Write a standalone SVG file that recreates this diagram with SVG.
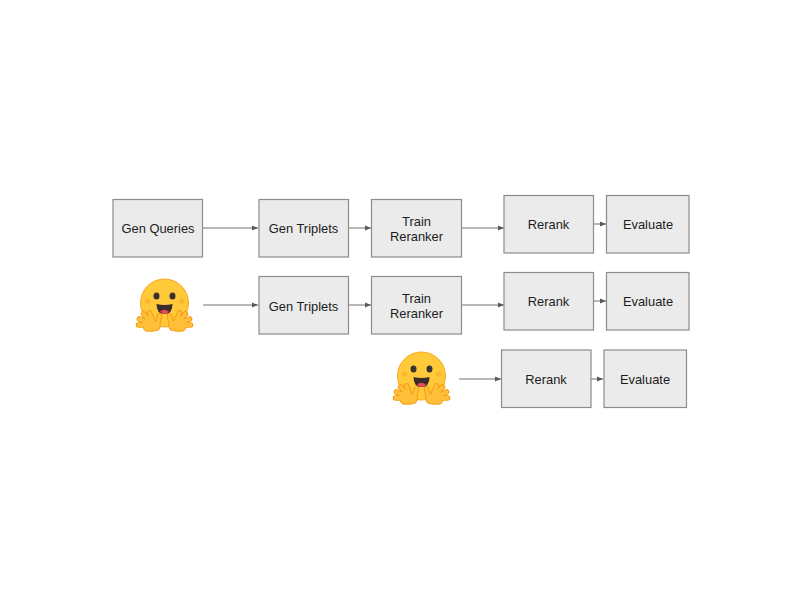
<svg xmlns="http://www.w3.org/2000/svg" xmlns:xlink="http://www.w3.org/1999/xlink" width="800" height="600" viewBox="0 0 800 600">
<style>
.box{fill:#ebebeb;stroke:#8c8c8c;stroke-width:1.2}
.t{font-family:"Liberation Sans",Arial,sans-serif;font-size:12.9px;fill:#1c1c1c;text-anchor:middle}
.c{fill:none;stroke:#707070;stroke-width:1;marker-end:url(#a)}
.fing{stroke:#f59a0b;stroke-width:5.6;stroke-linecap:round;fill:none}
.fing2{stroke:#ffbf3a;stroke-width:3.8;stroke-linecap:round;fill:none}
</style>
<defs>
<marker id="a" markerUnits="userSpaceOnUse" markerWidth="7" markerHeight="6" refX="6.500" refY="3" orient="auto"><path d="M0 0.2L6.500 3L0 5.800Z" fill="#5a5a5a"/></marker>
<g id="hand">
<path class="fing" d="M-14 21L-26 21M-14 20L-25 15M-13 19L-21 10M-11 19L-15 9M-7 20L-5 12"/>
<path d="M-19 19Q-12 15-5 18Q-3 23-6 26Q-12 28-19 27Q-23 24-19 19Z" fill="#ffbf3a" stroke="#f59a0b"/>
<path class="fing2" d="M-14 21L-26 21M-14 20L-25 15M-13 19L-21 10M-11 19L-15 9M-7 20L-5 12"/>
<path d="M-18 20Q-12 16-6 19Q-4 23-7 25Q-12 27-18 26Q-21 24-18 20Z" fill="#ffbf3a"/>
</g>
<g id="hug">
<circle cx="0" cy="-1" r="24" fill="#ffc93a" stroke="#f9a81e" stroke-width="1"/>
<circle cx="-17" cy="-3" r="2.600" fill="#f5a623" opacity=".55"/>
<circle cx="17" cy="-3" r="2.600" fill="#f5a623" opacity=".55"/>
<ellipse cx="-8" cy="-8" rx="3" ry="3.500" fill="#3a3030"/>
<ellipse cx="8" cy="-8" rx="3" ry="3.500" fill="#3a3030"/>
<path d="M-8 0Q0 2 8 0Q8 10 0 10Q-8 10-8 0Z" fill="#3a2c2c"/>
<path d="M-4.500 7.500Q0 4 4.500 7.500Q2.500 10 0 10Q-2.500 10-4.500 7.500Z" fill="#e8485a"/>
<use xlink:href="#hand" href="#hand"/>
<use xlink:href="#hand" href="#hand" transform="scale(-1 1)"/>
</g>
</defs>
<rect width="800" height="600" fill="#fff"/>
<g id="connectors">
<path class="c" d="M203 228H258"/>
<path class="c" d="M349 228H371"/>
<path class="c" d="M462 228H504"/>
<path class="c" d="M594 224H606"/>
<path class="c" d="M203 305H258"/>
<path class="c" d="M349 305H371"/>
<path class="c" d="M462 305H504"/>
<path class="c" d="M594 301H606"/>
<path class="c" d="M459 379H501"/>
<path class="c" d="M591 379H603"/>
</g>
<g id="n1"><rect class="box" x="113" y="199.500" width="89.500" height="57.500"/><text class="t" x="158" y="232.500">Gen Queries</text></g>
<g id="n2"><rect class="box" x="259" y="199.500" width="89.500" height="57.500"/><text class="t" x="303.500" y="232.500">Gen Triplets</text></g>
<g id="n3"><rect class="box" x="371.500" y="199.500" width="90" height="57.500"/><text class="t" x="416.500" y="225.500">Train</text><text class="t" x="416.500" y="240.500">Reranker</text></g>
<g id="n4"><rect class="box" x="504" y="195.500" width="89.500" height="57.500"/><text class="t" x="548.500" y="229">Rerank</text></g>
<g id="n5"><rect class="box" x="606.500" y="195.500" width="82.500" height="57.500"/><text class="t" x="648" y="229">Evaluate</text></g>
<g id="h1"><use xlink:href="#hug" href="#hug" x="164.500" y="304"/></g>
<g id="n6"><rect class="box" x="259" y="276.500" width="89.500" height="57.500"/><text class="t" x="303.500" y="310.500">Gen Triplets</text></g>
<g id="n7"><rect class="box" x="371.500" y="276.500" width="90" height="57.500"/><text class="t" x="416.500" y="302.500">Train</text><text class="t" x="416.500" y="317.500">Reranker</text></g>
<g id="n8"><rect class="box" x="504" y="272.500" width="89.500" height="57.500"/><text class="t" x="548.500" y="306">Rerank</text></g>
<g id="n9"><rect class="box" x="606.500" y="272.500" width="82.500" height="57.500"/><text class="t" x="648" y="306">Evaluate</text></g>
<g id="h2"><use xlink:href="#hug" href="#hug" x="421.500" y="377"/></g>
<g id="n10"><rect class="box" x="501.500" y="350" width="89.500" height="57.500"/><text class="t" x="546" y="384">Rerank</text></g>
<g id="n11"><rect class="box" x="604" y="350" width="82.500" height="57.500"/><text class="t" x="645" y="384">Evaluate</text></g>
</svg>
